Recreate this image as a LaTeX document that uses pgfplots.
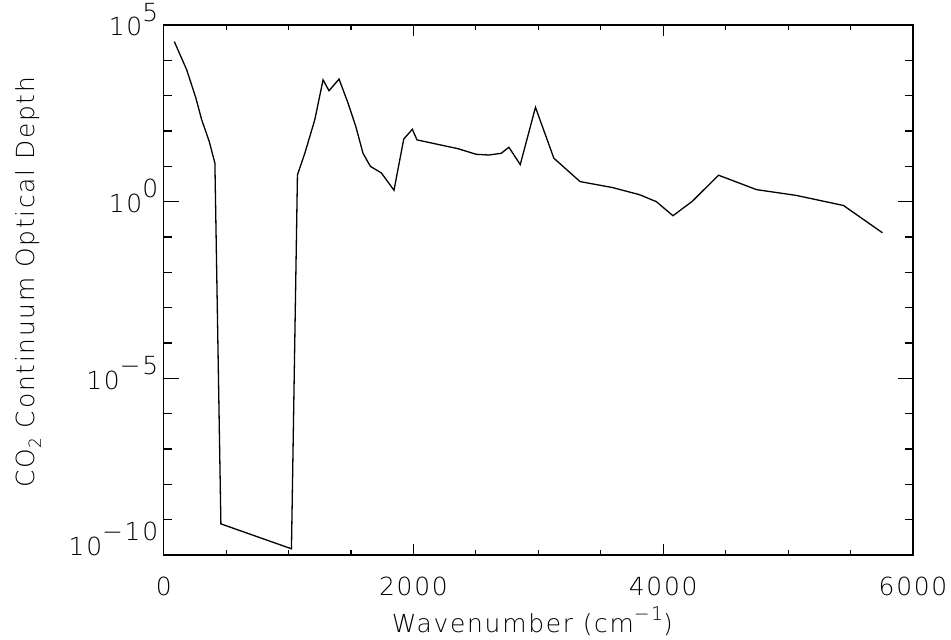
\documentclass[border=0pt]{standalone}
\usepackage{pgfplots}
\pgfplotsset{compat=1.18}
\usepackage{fontspec}
\setmainfont{DejaVu Sans ExtraLight}[LetterSpace=7]
\newcommand{\sups}[1]{\raisebox{0.6em}{#1}}
\newcommand{\supx}[1]{\raisebox{0.5em}{\fontsize{19}{19}\selectfont #1}}
\newcommand{\subs}[1]{\raisebox{-0.25em}{\fontsize{17}{17}\selectfont #1}}
\begin{document}
\begin{tikzpicture}
\begin{axis}[
  scale only axis, width=749.3bp, height=530bp,
  at={(163.7bp,85bp)}, anchor=south west,
  xmin=0, xmax=6000, ymode=log, ymin=1e-10, ymax=1e5,
  xtick={0,2000,4000,6000},
  minor xtick={500,1000,1500,2500,3000,3500,4500,5000,5500},
  ytick={1e-10,1e-5,1,1e5},
  yticklabels={{\raisebox{11bp}{10\sups{−10}}},{10\sups{−5}},{10\sups{0}},{10\sups{5}}},
  minor ytick={1e-9,1e-8,1e-7,1e-6,1e-4,1e-3,1e-2,1e-1,1e1,1e2,1e3,1e4},
  xtick pos=both, ytick pos=both,
  xticklabel pos=lower, yticklabel pos=left,
  tick align=inside,
  major tick length=15bp, minor tick length=8bp,
  xtick style={/pgfplots/major tick length=11bp, /pgfplots/minor tick length=5bp},
  tick style={black, line width=1.1bp},
  axis line style={line width=1.4bp},
  /pgf/number format/assume math mode=true,
  /pgf/number format/1000 sep={},
  tick label style={font=\fontsize{25}{30}\selectfont},
  xticklabel style={anchor=base, yshift=-40bp},
  yticklabel style={anchor=base east, yshift=-11bp, xshift=-2bp},
  label style={font=\fontsize{25}{30}\selectfont},
  xlabel={Wavenumber (cm\supx{−1})},
  xlabel style={at={(axis description cs:0.492,-0.147)}, anchor=base},
  ylabel={CO\subs{2} Continuum Optical Depth},
  ylabel style={at={(axis description cs:-0.1718,0.515)}, anchor=base},
]
\addplot[black, line width=1.3bp, mark=none] coordinates {
(85,3.39e4) (184,5.4e3) (258,851) (304,209) (365,50) (410,12.3)
(458,7.6e-10) (1023,1.5e-10) (1071,5.75) (1130,23.4) (1210,209)
(1276,2.8e3) (1324,1.38e3) (1404,2.95e3) (1476,617) (1538,135)
(1596,23.4) (1655,10) (1743,6.5) (1844,2.1) (1922,59) (1991,112)
(2028,56) (2356,31.6) (2503,21.9) (2604,20.9) (2703,23.4) (2764,34.7)
(2855,11.2) (2977,468) (3124,17) (3334,3.7) (3595,2.5) (3809,1.58)
(3945,1.0) (4078,0.40) (4232,1.02) (4443,5.6) (4747,2.19) (5062,1.51)
(5443,0.78) (5755,0.132)
};
\end{axis}
\pgfresetboundingbox
\useasboundingbox (0,0) rectangle (951bp,640bp);
\end{tikzpicture}
\end{document}
